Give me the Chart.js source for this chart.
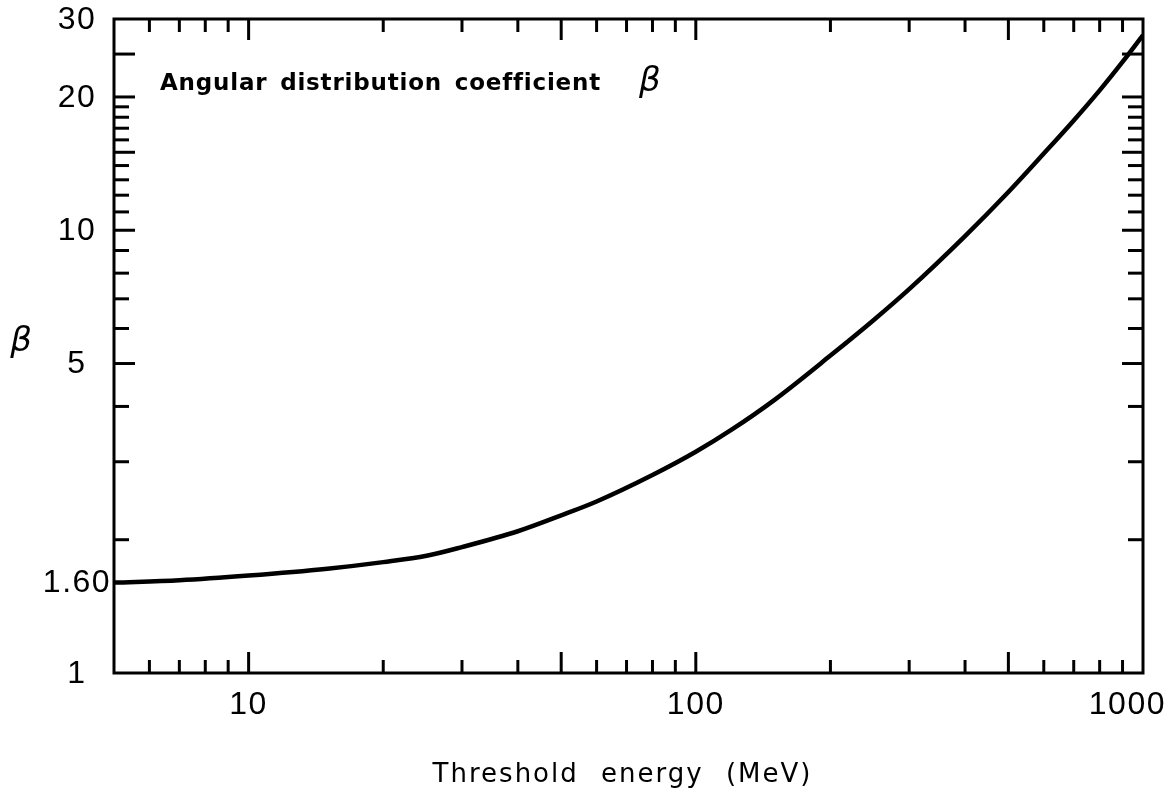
<!DOCTYPE html>
<html><head><meta charset="utf-8">
<script src="https://cdn.jsdelivr.net/npm/chart.js@4/dist/chart.umd.min.js"></script>
<style>html,body{margin:0;padding:0;background:#fff;}#wrap{width:1172px;height:796px;}</style>
</head><body><div id="wrap"><canvas id="c" width="1172" height="796"></canvas></div>
<script>
// ---- data ----
const energies   = [5, 7, 10, 15, 20, 25, 30, 40, 50, 60, 80, 100, 120, 150, 200, 250, 300, 400, 500, 600, 700, 800, 900, 1000];
const betaValues = [1.60, 1.62, 1.66, 1.72, 1.78, 1.84, 1.925, 2.09, 2.27, 2.44, 2.80, 3.16, 3.54, 4.14, 5.21, 6.27, 7.36, 9.70, 12.2, 14.9, 17.7, 20.7, 24.0, 27.6];

const xLongTicks  = [10, 50, 100, 500];
const xShortTicks = [6, 7, 8, 9, 20, 30, 40, 60, 70, 80, 90, 200, 300, 400, 600, 700, 800, 900];
const yLongTicks  = [5, 10, 15, 20, 25];
const yShortTicks = [2, 3, 4, 6, 7, 8, 9, 11, 12, 13, 14, 16, 17, 18, 19];

const xLabelValues = [10, 100, 1000];
const xLabelTexts  = ['10', '100', '1000'];
const yLabelValues = [1, 1.6, 5, 10, 20, 30];
const yLabelTexts  = ['1', '1.60', '5', '10', '20', '30'];

const xTitle = 'Threshold energy (MeV)';
const yTitle = 'β';
const insideTitle = 'Angular distribution coefficient';
const insideSymbol = 'β';

const points = energies.map((e, i) => ({x: e, y: betaValues[i]}));

const framePlugin = {
  id: 'frame',
  afterDatasetsDraw(chart) {
    const {ctx, chartArea: a, scales: {x, y}} = chart;
    ctx.save();
    ctx.strokeStyle = '#000';
    ctx.fillStyle = '#000';
    ctx.lineWidth = 3;
    ctx.lineCap = 'butt';
    ctx.strokeRect(a.left, a.top, a.right - a.left, a.bottom - a.top);
    const tick = (x1, y1, x2, y2) => { ctx.beginPath(); ctx.moveTo(x1, y1); ctx.lineTo(x2, y2); ctx.stroke(); };
    const xt = (v, len) => { const px = x.getPixelForValue(v); tick(px, a.bottom, px, a.bottom - len); tick(px, a.top, px, a.top + len); };
    const yt = (v, len) => { const py = y.getPixelForValue(v); tick(a.left, py, a.left + len, py); tick(a.right, py, a.right - len, py); };
    xShortTicks.forEach(v => xt(v, 13));
    xLongTicks.forEach(v => xt(v, 21));
    yShortTicks.forEach(v => yt(v, 15));
    yLongTicks.forEach(v => yt(v, 21));

    // tick labels
    ctx.font = '32px "Liberation Sans"';
    ctx.letterSpacing = '1.5px';
    ctx.textBaseline = 'middle';
    ctx.textAlign = 'center';
    yLabelValues.forEach((v, i) => {
      ctx.fillText(yLabelTexts[i], a.left - 37, y.getPixelForValue(v) + 1);
    });
    const W = chart.width;
    xLabelValues.forEach((v, i) => {
      let px = x.getPixelForValue(v);
      const w = ctx.measureText(xLabelTexts[i]).width;
      if (px + w / 2 > W - 6) px = W - 6 - w / 2;
      ctx.fillText(xLabelTexts[i], px, a.bottom + 32);
    });

    // axis titles
    ctx.font = '26px "DejaVu Sans"';
    ctx.letterSpacing = '2px';
    ctx.wordSpacing = '12px';
    ctx.textAlign = 'center';
    ctx.fillText(xTitle, (a.left + a.right) / 2 - 6, a.bottom + 102);
    ctx.letterSpacing = '0px';
    ctx.wordSpacing = '0px';
    ctx.font = 'italic 34px "DejaVu Sans"';
    ctx.fillText(yTitle, 21, 342);

    // inner title
    ctx.font = 'bold 23px "DejaVu Sans"';
    ctx.letterSpacing = '0.8px';
    ctx.wordSpacing = '4px';
    ctx.textAlign = 'left';
    ctx.textBaseline = 'alphabetic';
    ctx.fillText(insideTitle, a.left + 46, a.top + 71);
    const tw = ctx.measureText(insideTitle).width;
    ctx.letterSpacing = '0px';
    ctx.wordSpacing = '0px';
    ctx.font = 'italic 34px "DejaVu Sans"';
    ctx.fillText(insideSymbol, a.left + 46 + tw + 38, a.top + 72);
    ctx.restore();
  }
};

new Chart(document.getElementById('c'), {
  type: 'scatter',
  data: {
    datasets: [{
      data: points,
      showLine: true,
      borderColor: '#000',
      borderWidth: 4.5,
      pointRadius: 0,
      cubicInterpolationMode: 'monotone',
      fill: false
    }]
  },
  options: {
    responsive: false,
    animation: false,
    devicePixelRatio: 1,
    layout: {padding: {left: 114, right: 29, top: 19, bottom: 123}},
    plugins: {legend: {display: false}, tooltip: {enabled: false}},
    scales: {
      x: {type: 'logarithmic', min: 5, max: 1000, display: false},
      y: {type: 'logarithmic', min: 1, max: 30, display: false}
    }
  },
  plugins: [framePlugin]
});
</script></body></html>
